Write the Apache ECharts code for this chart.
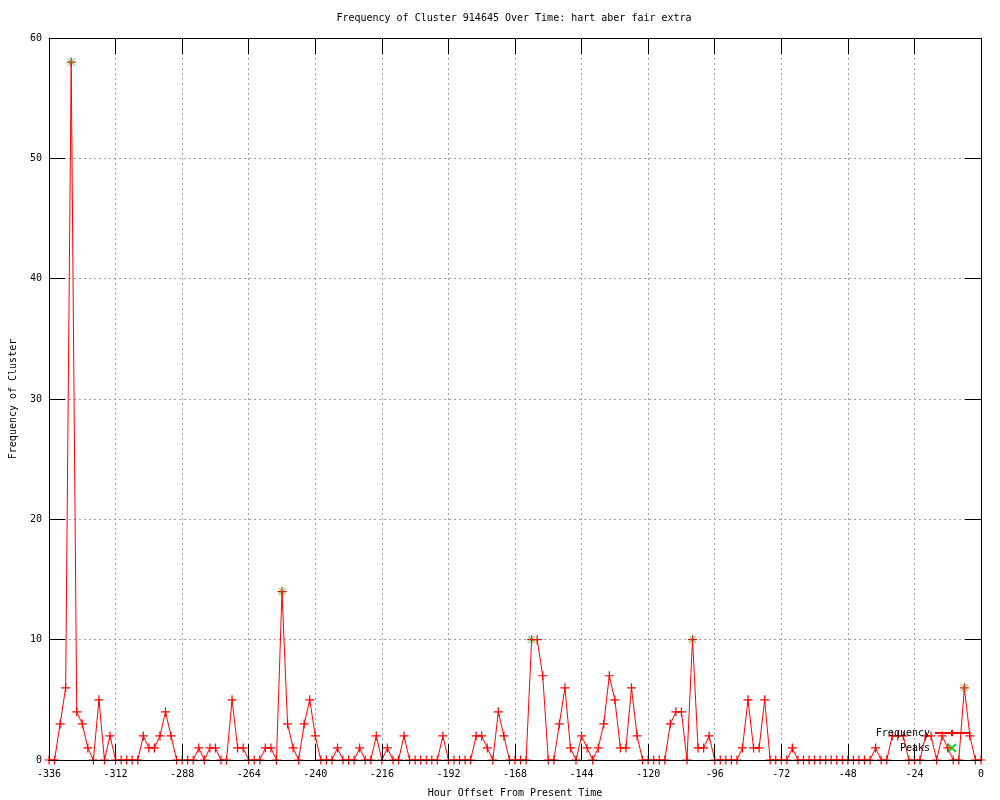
<!DOCTYPE html>
<html><head><meta charset="utf-8">
<script src="https://cdn.jsdelivr.net/npm/echarts@6/dist/echarts.min.js"></script>
<style>html,body{margin:0;padding:0;background:#fff}#c{width:1000px;height:800px}</style>
</head><body><div id="c"></div>
<script>
const titleText = 'Frequency of Cluster 914645 Over Time: hart aber fair extra';
const xTitle = 'Hour Offset From Present Time';
const yTitle = 'Frequency of Cluster';
const seriesNames = ['Frequency', 'Peaks'];
const startHour = -336;
const stepHours = 2;
const frequency = [
  0, 0, 3, 6, 58, 4, 3, 1, 0, 5, 0, 2, 0, 0, 0, 0, 0, 2, 1, 1,
  2, 4, 2, 0, 0, 0, 0, 1, 0, 1, 1, 0, 0, 5, 1, 1, 0, 0, 0, 1,
  1, 0, 14, 3, 1, 0, 3, 5, 2, 0, 0, 0, 1, 0, 0, 0, 1, 0, 0, 2,
  0, 1, 0, 0, 2, 0, 0, 0, 0, 0, 0, 2, 0, 0, 0, 0, 0, 2, 2, 1,
  0, 4, 2, 0, 0, 0, 0, 10, 10, 7, 0, 0, 3, 6, 1, 0, 2, 1, 0, 1,
  3, 7, 5, 1, 1, 6, 2, 0, 0, 0, 0, 0, 3, 4, 4, 0, 10, 1, 1, 2,
  0, 0, 0, 0, 0, 1, 5, 1, 1, 5, 0, 0, 0, 0, 1, 0, 0, 0, 0, 0,
  0, 0, 0, 0, 0, 0, 0, 0, 0, 1, 0, 0, 2, 2, 2, 0, 0, 0, 2, 2,
  0, 2, 1, 0, 0, 6, 2, 0, 0
];
const peakHours = [-328, -252, -162, -104, -6];
const peakValues = [58, 14, 10, 10, 6];
const xMin = -336, xMax = 0, xInterval = 24;
const yMin = 0, yMax = 60, yInterval = 10;

const freqData = frequency.map((v, i) => [startHour + stepHours * i, v]);
const peakData = peakHours.map((h, i) => [h, peakValues[i]]);

const FONT = 'DejaVu Sans Mono';
const plusPath = 'path://M5 0L5 10M0 5L10 5';
const crossPath = 'path://M0 0L10 10M10 0L0 10';
const labelStyle = () => ({color: '#000', fontFamily: FONT, fontSize: 10});
const tick = () => ({show: true, inside: true, length: 16, lineStyle: {color: '#000', width: 1}});
const line = () => ({show: true, onZero: false, lineStyle: {color: '#000', width: 1}});

function gridAxis(kind, pos) {
  const o = {
    type: 'value', position: pos, z: 0,
    axisLine: {show: false}, axisTick: {show: false}, axisLabel: {show: false},
    splitLine: {show: true, lineStyle: {color: '#a0a0a0', type: [2, 3], width: 1}}
  };
  if (kind === 'x') Object.assign(o, {min: xMin, max: xMax, interval: xInterval});
  else Object.assign(o, {min: yMin, max: yMax, interval: yInterval});
  return o;
}
function frameAxis(kind, pos, labels) {
  const o = {
    type: 'value', position: pos, z: 5,
    axisLine: line(), axisTick: tick(), splitLine: {show: false},
    axisLabel: labels ? Object.assign({margin: kind === 'x' ? 9 : 7}, labelStyle()) : {show: false}
  };
  if (kind === 'x') Object.assign(o, {min: xMin, max: xMax, interval: xInterval});
  else Object.assign(o, {min: yMin, max: yMax, interval: yInterval});
  return o;
}

const xBottom = frameAxis('x', 'bottom', true);
Object.assign(xBottom, {name: xTitle, nameLocation: 'middle', nameGap: 28, nameTextStyle: labelStyle()});
const yLeft = frameAxis('y', 'left', true);
Object.assign(yLeft, {name: yTitle, nameLocation: 'middle', nameGap: 31, nameRotate: 90, nameTextStyle: labelStyle()});

const chart = echarts.init(document.getElementById('c'), null, {renderer: 'canvas'});
chart.setOption({
  animation: false,
  backgroundColor: '#fff',
  title: {
    text: titleText, left: 514, top: 13, padding: 0, textAlign: 'center',
    textStyle: {fontFamily: FONT, fontSize: 10, fontWeight: 'normal', color: '#000'}
  },
  legend: {
    orient: 'vertical', align: 'right', right: 30, top: 728, padding: 0,
    itemWidth: 34, itemHeight: 8, itemGap: 5,
    textStyle: labelStyle(),
    data: seriesNames
  },
  grid: {left: 49, top: 38, width: 932, height: 722, containLabel: false, outerBoundsMode: 'none'},
  xAxis: [gridAxis('x', 'bottom'), xBottom, frameAxis('x', 'top', false)],
  yAxis: [gridAxis('y', 'left'), yLeft, frameAxis('y', 'right', false)],
  series: [{
    name: seriesNames[0], type: 'line', data: freqData, xAxisIndex: 1, yAxisIndex: 1,
    symbol: plusPath, symbolSize: 9, showAllSymbol: true,
    lineStyle: {color: '#ff0000', width: 1},
    itemStyle: {color: '#ff0000', borderColor: '#ff0000', borderWidth: 1.2},
    emphasis: {disabled: true}, z: 3
  }, {
    name: seriesNames[1], type: 'scatter', data: peakData, xAxisIndex: 1, yAxisIndex: 1,
    symbol: crossPath, symbolSize: 7,
    itemStyle: {color: '#00c000', borderColor: '#00c000', borderWidth: 1},
    emphasis: {disabled: true}, z: 4
  }]
});
</script></body></html>
